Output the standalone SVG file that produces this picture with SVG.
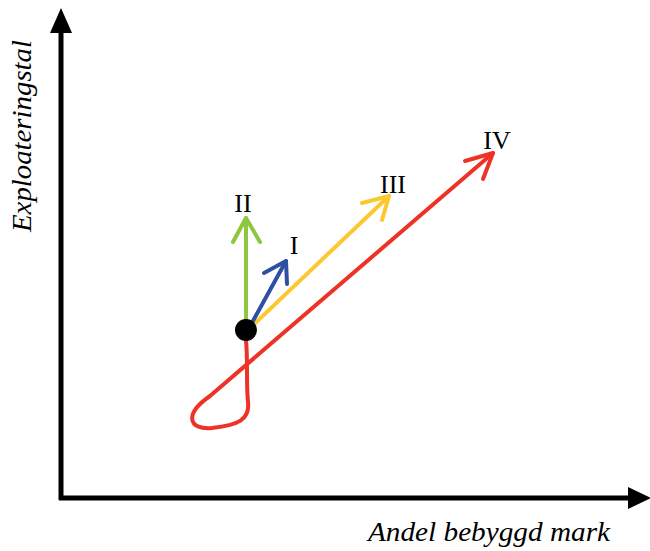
<svg xmlns="http://www.w3.org/2000/svg" width="650" height="551" viewBox="0 0 650 551">
<style>
.lbl{font-family:"Liberation Serif","Times New Roman",serif;font-size:26px;fill:#000;text-anchor:middle}
.ax{font-family:"Liberation Serif","Times New Roman",serif;font-style:italic;font-size:28px;fill:#000}
.arr{fill:none;stroke-width:4;stroke-linecap:round;stroke-linejoin:round}
</style>
<rect width="650" height="551" fill="#fff"/>
<g id="axes">
<line x1="61" y1="500" x2="61" y2="30" stroke="#000" stroke-width="5"/>
<polygon points="61,8 50,33 72,33" fill="#000"/>
<line x1="59" y1="498" x2="630" y2="498" stroke="#000" stroke-width="5"/>
<polygon points="651,498 628,487 628,509" fill="#000"/>
<text class="ax" transform="translate(31,232) rotate(-90)" textLength="192" lengthAdjust="spacingAndGlyphs">Exploateringstal</text>
<text class="ax" x="368" y="541" textLength="242" lengthAdjust="spacingAndGlyphs">Andel bebyggd mark</text>
</g>
<g id="connectors">
<g id="arrow-IV">
<path class="arr" stroke="#ee3226" d="M246,340 C248,362 246,382 248,402 C250,420 238,425 212,428 C188,430 184,414 210,396 L493,153"/>
<path class="arr" stroke="#ee3226" d="M465,161 L493,153 L483,179"/>
</g>
<g id="arrow-II">
<path class="arr" stroke="#8dc63f" d="M246,330 L246,218"/>
<path class="arr" stroke="#8dc63f" d="M233,242 L246,218 L260,242"/>
</g>
<g id="arrow-III">
<path class="arr" stroke="#fdc82f" d="M250,328 L389,196"/>
<path class="arr" stroke="#fdc82f" d="M362,203 L389,196 L382,220"/>
</g>
<g id="arrow-I">
<path class="arr" stroke="#2e4fa3" d="M248,330 L286,261"/>
<path class="arr" stroke="#2e4fa3" d="M264,273 L286,261 L287,284"/>
</g>
</g>
<g id="start"><circle cx="246" cy="330" r="11" fill="#000"/></g>
<g id="label-II"><text class="lbl" x="243" y="212">II</text></g>
<g id="label-I"><text class="lbl" x="294" y="254">I</text></g>
<g id="label-III"><text class="lbl" x="393" y="193">III</text></g>
<g id="label-IV"><text class="lbl" x="497" y="149">IV</text></g>
</svg>
